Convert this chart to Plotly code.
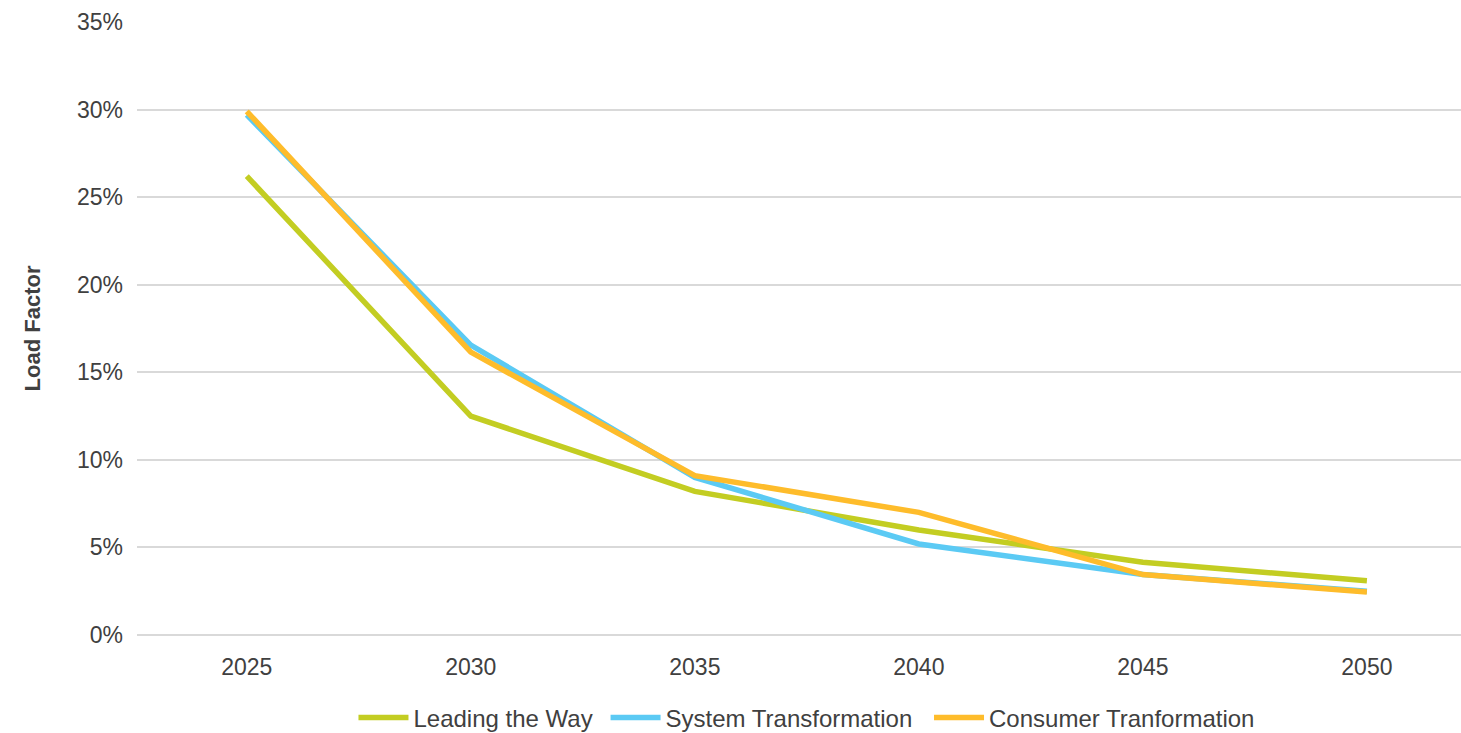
import plotly.graph_objects as go

years = [2025, 2030, 2035, 2040, 2045, 2050]
leading_the_way = [26.2, 12.5, 8.2, 6.0, 4.15, 3.1]
system_transformation = [29.7, 16.55, 9.0, 5.2, 3.45, 2.5]
consumer_transformation = [29.9, 16.15, 9.1, 7.0, 3.45, 2.45]
y_ticks = [0, 5, 10, 15, 20, 25, 30, 35]

series = [
    ("Leading the Way", leading_the_way, "#C3CD22"),
    ("System Transformation", system_transformation, "#5BCAF4"),
    ("Consumer Tranformation", consumer_transformation, "#FEBC2B"),
]

font_family = "Liberation Sans, Arial, sans-serif"
text_color = "#404040"
grid_color = "#D9D9D9"

# one legend box per series so each entry can be placed independently
legend_ids = ["legend", "legend2", "legend3"]
legend_x = [0.1635, 0.3539, 0.5982]

fig = go.Figure()
for (name, values, color), lid in zip(series, legend_ids):
    fig.add_trace(go.Scatter(
        x=years, y=values, name=name, mode="lines",
        line=dict(color=color, width=5.5), legend=lid,
    ))

legend_style = dict(
    orientation="h", xanchor="left", yref="container", y=0.0205,
    yanchor="middle", font=dict(size=24, color=text_color), itemwidth=50,
    bgcolor="rgba(0,0,0,0)",
)

fig.update_layout(
    width=1461, height=733,
    margin=dict(l=137, r=0, t=22, b=98),
    paper_bgcolor="white", plot_bgcolor="white",
    font=dict(family=font_family, size=23, color=text_color),
    showlegend=True,
    legend=dict(x=legend_x[0], **legend_style),
    legend2=dict(x=legend_x[1], **legend_style),
    legend3=dict(x=legend_x[2], **legend_style),
)

fig.update_xaxes(
    range=[2022.55, 2052.1], tickmode="array", tickvals=years,
    ticktext=[str(y) for y in years],
    showgrid=False, zeroline=False, showline=False,
    ticks="", ticklabelstandoff=16, automargin=False,
    tickfont=dict(size=23, color=text_color),
)

fig.update_yaxes(
    range=[0, 35], tickmode="array", tickvals=y_ticks,
    ticktext=[f"{v}%" for v in y_ticks],
    showgrid=True, gridcolor=grid_color, gridwidth=1.5,
    zeroline=True, zerolinecolor=grid_color, zerolinewidth=1.5,
    showline=False, ticks="", ticklabelstandoff=13, automargin=False,
    tickfont=dict(size=23, color=text_color),
    title=dict(text="<b>Load Factor</b>", standoff=30,
               font=dict(size=22, color=text_color)),
)

fig.write_html("out.html")
